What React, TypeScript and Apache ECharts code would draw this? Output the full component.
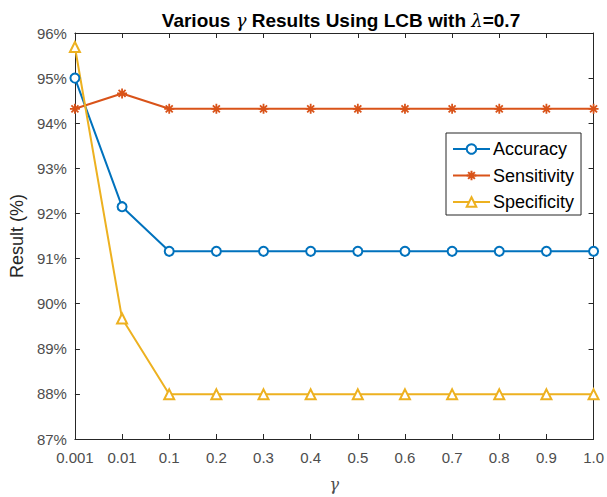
import React, { useEffect, useRef } from "react";
import * as echarts from "echarts";

const gammaLabels = ["0.001", "0.01", "0.1", "0.2", "0.3", "0.4", "0.5", "0.6", "0.7", "0.8", "0.9", "1.0"];
const accuracy = [95.0, 92.15, 91.16, 91.16, 91.16, 91.16, 91.16, 91.16, 91.16, 91.16, 91.16, 91.16];
const sensitivity = [94.32, 94.66, 94.32, 94.32, 94.32, 94.32, 94.32, 94.32, 94.32, 94.32, 94.32, 94.32];
const specificity = [95.69, 89.67, 87.99, 87.99, 87.99, 87.99, 87.99, 87.99, 87.99, 87.99, 87.99, 87.99];

const FONT = "'Liberation Sans', Arial, Helvetica, sans-serif";
const asterisk = "path://M5,0L5,10M0,5L10,5M1.5,1.5L8.5,8.5M1.5,8.5L8.5,1.5";

export default function App() {
  const ref = useRef<HTMLDivElement>(null);
  useEffect(() => {
    const chart = echarts.init(ref.current!, null, { renderer: "svg" });
    const axisLine = { show: true, lineStyle: { color: "#262626", width: 1 } };
    chart.setOption({
      animation: false,
      backgroundColor: "#ffffff",
      title: {
        text: "Various {g|γ} Results Using LCB with {g|λ}=0.7",
        left: 336,
        textAlign: "center",
        top: 6,
        textStyle: {
          fontFamily: FONT,
          fontSize: 19,
          fontWeight: "bold",
          color: "#000",
          rich: {
            g: { fontFamily: "'DejaVu Serif', serif", fontStyle: "italic", fontSize: 18, fontWeight: "normal", color: "#000" },
          },
        },
      },
      grid: { left: 74, right: 11, top: 33, bottom: 53 },
      legend: {
        left: 446,
        top: 133,
        orient: "vertical",
        backgroundColor: "#fff",
        borderColor: "#262626",
        borderWidth: 1,
        borderRadius: 0,
        padding: [6, 7, 3, 6],
        itemWidth: 37,
        itemHeight: 12,
        itemGap: 6.5,
        textStyle: { fontFamily: FONT, fontSize: 18, lineHeight: 20, color: "#000", padding: [0, 0, 0, -2] },
        data: ["Accuracy", "Sensitivity", "Specificity"],
      },
      xAxis: [
        {
          type: "category",
          data: gammaLabels,
          boundaryGap: false,
          axisLine,
          axisTick: { show: true, inside: true, length: 5, alignWithLabel: true, lineStyle: { color: "#262626" } },
          axisLabel: { interval: 0, fontFamily: FONT, fontSize: 15, color: "#4d4d4d", margin: 11 },
          splitLine: { show: false },
          name: "γ",
          nameLocation: "middle",
          nameGap: 37,
          nameTextStyle: { fontFamily: "'DejaVu Serif', serif", fontStyle: "italic", fontSize: 16, color: "#4d4d4d" },
        },
        {
          type: "category",
          data: gammaLabels,
          boundaryGap: false,
          position: "top",
          axisLine,
          axisTick: { show: true, inside: true, length: 5, lineStyle: { color: "#262626" } },
          axisLabel: { show: false },
          splitLine: { show: false },
        },
      ],
      yAxis: [
        {
          type: "value",
          min: 87,
          max: 96,
          interval: 1,
          axisLine,
          axisTick: { show: true, inside: true, length: 5, lineStyle: { color: "#262626" } },
          axisLabel: { formatter: "{value}%", fontFamily: FONT, fontSize: 15, color: "#4d4d4d", margin: 8, padding: [7, 0, 0, 0] },
          splitLine: { show: false },
          name: "Result (%)",
          nameLocation: "middle",
          nameGap: 42,
          nameTextStyle: { fontFamily: FONT, fontSize: 18, color: "#262626" },
        },
        {
          type: "value",
          min: 87,
          max: 96,
          interval: 1,
          position: "right",
          axisLine,
          axisTick: { show: true, inside: true, length: 5, lineStyle: { color: "#262626" } },
          axisLabel: { show: false },
          splitLine: { show: false },
        },
      ],
      series: [
        {
          name: "Accuracy",
          type: "line",
          data: accuracy,
          color: "#0072BD",
          lineStyle: { width: 2, color: "#0072BD" },
          symbol: "emptyCircle",
          symbolSize: 9,
          itemStyle: { color: "#0072BD", borderColor: "#0072BD", borderWidth: 1.5 },
        },
        {
          name: "Sensitivity",
          type: "line",
          data: sensitivity,
          color: "#D95319",
          lineStyle: { width: 2, color: "#D95319" },
          symbol: asterisk,
          symbolSize: 10,
          itemStyle: { color: "none", borderColor: "#D95319", borderWidth: 1.8 },
        },
        {
          name: "Specificity",
          type: "line",
          data: specificity,
          color: "#EDB120",
          lineStyle: { width: 2, color: "#EDB120" },
          symbol: "emptyTriangle",
          symbolSize: 10,
          itemStyle: { color: "#EDB120", borderColor: "#EDB120", borderWidth: 1.5 },
        },
      ],
    });
    return () => chart.dispose();
  }, []);
  return <div ref={ref} style={{ width: 607, height: 497, position: "absolute", left: 0, top: 0 }} />;
}
